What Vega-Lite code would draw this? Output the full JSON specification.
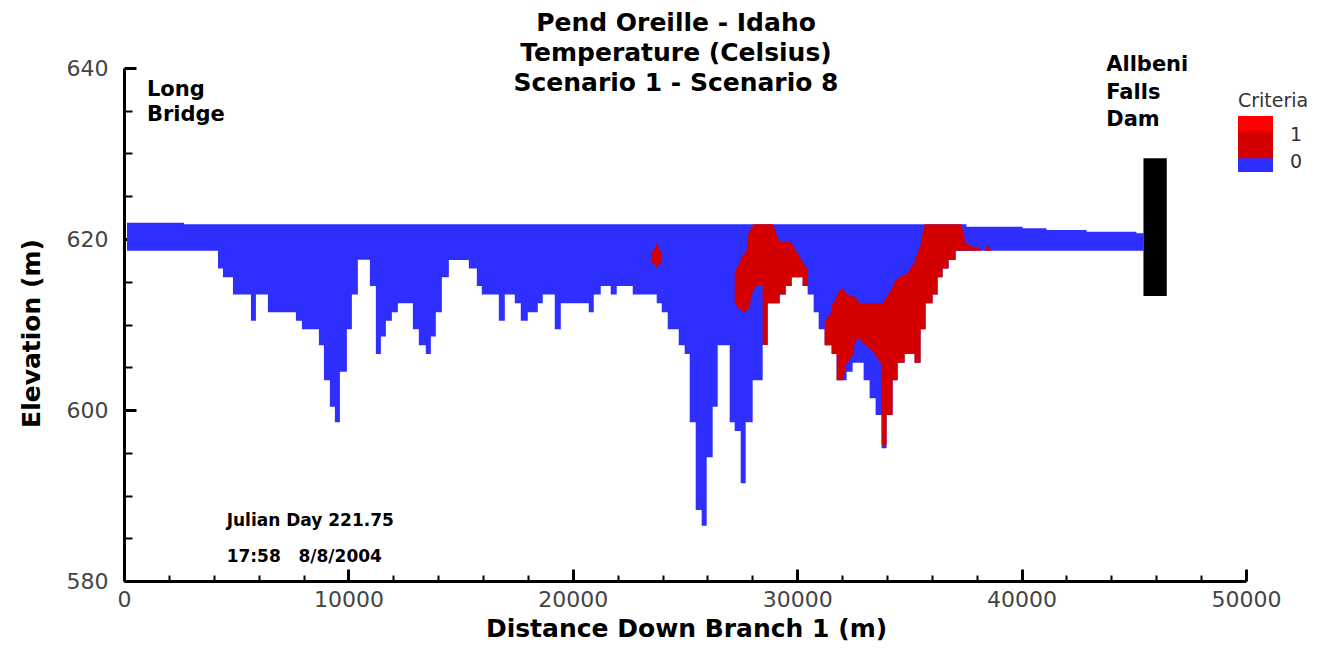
{
  "$schema": "https://vega.github.io/schema/vega-lite/v6.json",
  "width": 1122,
  "height": 513,
  "autosize": {"type": "none"},
  "padding": {"left": 124, "top": 68, "right": 82, "bottom": 67},
  "background": "white",
  "config": {"view": {"stroke": null}, "axis": {"grid": false}},
  "title": {
    "text": ["Pend Oreille - Idaho", "Temperature (Celsius)", "Scenario 1 - Scenario 8"],
    "font": "DejaVu Sans", "fontSize": 25, "fontWeight": "bold", "color": "black",
    "lineHeight": 30, "anchor": "middle", "frame": "group", "dx": -9, "offset": -42
  },
  "datasets": {
    "water": [
      {"x": 134, "top": 621.9, "bot": 618.63, "c": 0},
      {"x": 2672, "top": 621.72, "bot": 618.63, "c": 0},
      {"x": 4187, "top": 621.72, "bot": 616.55, "c": 0},
      {"x": 4409, "top": 621.72, "bot": 615.52, "c": 0},
      {"x": 4855, "top": 621.72, "bot": 613.51, "c": 0},
      {"x": 5657, "top": 621.72, "bot": 610.44, "c": 0},
      {"x": 5879, "top": 621.72, "bot": 613.51, "c": 0},
      {"x": 6414, "top": 621.72, "bot": 611.44, "c": 0},
      {"x": 7661, "top": 621.72, "bot": 610.44, "c": 0},
      {"x": 7928, "top": 621.72, "bot": 609.44, "c": 0},
      {"x": 8685, "top": 621.72, "bot": 607.57, "c": 0},
      {"x": 8908, "top": 621.72, "bot": 603.47, "c": 0},
      {"x": 9175, "top": 621.72, "bot": 600.39, "c": 0},
      {"x": 9398, "top": 621.72, "bot": 598.56, "c": 0},
      {"x": 9621, "top": 621.72, "bot": 604.48, "c": 0},
      {"x": 9932, "top": 621.72, "bot": 609.44, "c": 0},
      {"x": 10155, "top": 621.72, "bot": 613.51, "c": 0},
      {"x": 10422, "top": 621.72, "bot": 617.58, "c": 0},
      {"x": 10957, "top": 621.72, "bot": 614.5, "c": 0},
      {"x": 11224, "top": 621.72, "bot": 606.55, "c": 0},
      {"x": 11447, "top": 621.72, "bot": 608.6, "c": 0},
      {"x": 11669, "top": 621.72, "bot": 610.44, "c": 0},
      {"x": 11937, "top": 621.72, "bot": 611.44, "c": 0},
      {"x": 12204, "top": 621.72, "bot": 612.48, "c": 0},
      {"x": 12872, "top": 621.72, "bot": 609.44, "c": 0},
      {"x": 13139, "top": 621.72, "bot": 607.57, "c": 0},
      {"x": 13451, "top": 621.72, "bot": 606.55, "c": 0},
      {"x": 13674, "top": 621.72, "bot": 608.6, "c": 0},
      {"x": 13896, "top": 621.72, "bot": 611.44, "c": 0},
      {"x": 14164, "top": 621.72, "bot": 615.52, "c": 0},
      {"x": 14476, "top": 621.72, "bot": 617.54, "c": 0},
      {"x": 15366, "top": 621.72, "bot": 616.55, "c": 0},
      {"x": 15723, "top": 621.72, "bot": 614.5, "c": 0},
      {"x": 15945, "top": 621.72, "bot": 613.51, "c": 0},
      {"x": 16703, "top": 621.72, "bot": 610.44, "c": 0},
      {"x": 16970, "top": 621.72, "bot": 613.51, "c": 0},
      {"x": 17415, "top": 621.72, "bot": 612.48, "c": 0},
      {"x": 17682, "top": 621.72, "bot": 610.44, "c": 0},
      {"x": 17994, "top": 621.72, "bot": 611.44, "c": 0},
      {"x": 18440, "top": 621.72, "bot": 612.48, "c": 0},
      {"x": 18662, "top": 621.72, "bot": 613.51, "c": 0},
      {"x": 19197, "top": 621.72, "bot": 609.44, "c": 0},
      {"x": 19464, "top": 621.72, "bot": 612.48, "c": 0},
      {"x": 20711, "top": 621.72, "bot": 611.44, "c": 0},
      {"x": 20934, "top": 621.72, "bot": 613.51, "c": 0},
      {"x": 21246, "top": 621.72, "bot": 614.5, "c": 0},
      {"x": 21691, "top": 621.72, "bot": 613.51, "c": 0},
      {"x": 21958, "top": 621.72, "bot": 614.5, "c": 0},
      {"x": 22671, "top": 621.72, "bot": 613.51, "c": 0},
      {"x": 23740, "top": 621.72, "bot": 612.48, "c": 0},
      {"x": 23963, "top": 621.72, "bot": 611.44, "c": 0},
      {"x": 24230, "top": 621.72, "bot": 609.44, "c": 0},
      {"x": 24720, "top": 621.72, "bot": 607.57, "c": 0},
      {"x": 24987, "top": 621.72, "bot": 606.55, "c": 0},
      {"x": 25210, "top": 621.72, "bot": 598.56, "c": 0},
      {"x": 25477, "top": 621.72, "bot": 588.3, "c": 0},
      {"x": 25744, "top": 621.72, "bot": 586.47, "c": 0},
      {"x": 25967, "top": 621.72, "bot": 594.47, "c": 0},
      {"x": 26234, "top": 621.72, "bot": 600.39, "c": 0},
      {"x": 26457, "top": 621.72, "bot": 607.57, "c": 0},
      {"x": 26991, "top": 621.72, "bot": 598.56, "c": 0},
      {"x": 27214, "top": 621.72, "bot": 597.55, "c": 0},
      {"x": 27482, "top": 621.72, "bot": 591.43, "c": 0},
      {"x": 27704, "top": 621.72, "bot": 598.56, "c": 0},
      {"x": 28016, "top": 621.72, "bot": 603.47, "c": 0},
      {"x": 28462, "top": 621.72, "bot": 607.6, "c": 0},
      {"x": 28684, "top": 621.72, "bot": 612.48, "c": 0},
      {"x": 29219, "top": 621.72, "bot": 613.51, "c": 0},
      {"x": 29486, "top": 621.72, "bot": 614.5, "c": 0},
      {"x": 29753, "top": 621.72, "bot": 615.52, "c": 0},
      {"x": 30243, "top": 621.72, "bot": 614.5, "c": 0},
      {"x": 30466, "top": 621.72, "bot": 613.51, "c": 0},
      {"x": 30733, "top": 621.72, "bot": 611.44, "c": 0},
      {"x": 30956, "top": 621.72, "bot": 609.44, "c": 0},
      {"x": 31223, "top": 621.72, "bot": 607.57, "c": 0},
      {"x": 31535, "top": 621.72, "bot": 606.55, "c": 0},
      {"x": 31758, "top": 621.72, "bot": 603.47, "c": 0},
      {"x": 32203, "top": 621.72, "bot": 604.48, "c": 0},
      {"x": 32470, "top": 621.72, "bot": 605.53, "c": 0},
      {"x": 32960, "top": 621.72, "bot": 603.47, "c": 0},
      {"x": 33227, "top": 621.72, "bot": 601.37, "c": 0},
      {"x": 33494, "top": 621.72, "bot": 599.42, "c": 0},
      {"x": 33761, "top": 621.72, "bot": 595.52, "c": 0},
      {"x": 33984, "top": 621.72, "bot": 599.42, "c": 0},
      {"x": 34251, "top": 621.72, "bot": 603.47, "c": 0},
      {"x": 34474, "top": 621.72, "bot": 605.53, "c": 0},
      {"x": 34786, "top": 621.72, "bot": 606.55, "c": 0},
      {"x": 35231, "top": 621.72, "bot": 605.53, "c": 0},
      {"x": 35498, "top": 621.72, "bot": 609.44, "c": 0},
      {"x": 35721, "top": 621.72, "bot": 612.48, "c": 0},
      {"x": 36033, "top": 621.72, "bot": 613.51, "c": 0},
      {"x": 36256, "top": 621.72, "bot": 615.52, "c": 0},
      {"x": 36478, "top": 621.72, "bot": 616.55, "c": 0},
      {"x": 36746, "top": 621.72, "bot": 617.54, "c": 0},
      {"x": 37058, "top": 621.72, "bot": 618.63, "c": 0},
      {"x": 37547, "top": 621.44, "bot": 618.63, "c": 0},
      {"x": 40041, "top": 621.25, "bot": 618.63, "c": 0},
      {"x": 41110, "top": 621.05, "bot": 618.63, "c": 0},
      {"x": 42892, "top": 620.85, "bot": 618.63, "c": 0},
      {"x": 45119, "top": 620.67, "bot": 618.63, "c": 0},
      {"x": 45431, "top": 620.67, "bot": 618.63, "c": 0}
    ],
    "red": [
      {"r": "A", "x": 23504, "top": 618.33, "bot": 617.35, "c": 1},
      {"r": "A", "x": 23651, "top": 618.91, "bot": 616.96, "c": 1},
      {"r": "A", "x": 23727, "top": 619.5, "bot": 616.57, "c": 1},
      {"r": "A", "x": 23798, "top": 619.1, "bot": 616.96, "c": 1},
      {"r": "A", "x": 23976, "top": 618.33, "bot": 617.35, "c": 1},
      {"r": "B", "x": 27214, "top": 615.99, "bot": 612.48, "c": 1},
      {"r": "B", "x": 27290, "top": 616.57, "bot": 612.28, "c": 1},
      {"r": "B", "x": 27361, "top": 616.9, "bot": 611.89, "c": 1},
      {"r": "B", "x": 27437, "top": 617.16, "bot": 611.75, "c": 1},
      {"r": "B", "x": 27512, "top": 617.93, "bot": 611.64, "c": 1},
      {"r": "B", "x": 27584, "top": 618.13, "bot": 611.5, "c": 1},
      {"r": "B", "x": 27735, "top": 618.51, "bot": 611.58, "c": 1},
      {"r": "B", "x": 27806, "top": 620.47, "bot": 611.75, "c": 1},
      {"r": "B", "x": 27882, "top": 620.94, "bot": 612.08, "c": 1},
      {"r": "B", "x": 27958, "top": 621.29, "bot": 613.45, "c": 1},
      {"r": "B", "x": 28029, "top": 621.72, "bot": 613.8, "c": 1},
      {"r": "B", "x": 28105, "top": 621.72, "bot": 614.23, "c": 1},
      {"r": "B", "x": 28252, "top": 621.72, "bot": 614.62, "c": 1},
      {"r": "B", "x": 28461, "top": 621.72, "bot": 614.54, "c": 1},
      {"r": "B", "x": 28462, "top": 621.72, "bot": 607.6, "c": 1},
      {"r": "B", "x": 28683, "top": 621.72, "bot": 607.6, "c": 1},
      {"r": "B", "x": 28684, "top": 621.72, "bot": 612.48, "c": 1},
      {"r": "B", "x": 28920, "top": 621.72, "bot": 612.48, "c": 1},
      {"r": "B", "x": 29071, "top": 620.67, "bot": 612.48, "c": 1},
      {"r": "B", "x": 29218, "top": 619.68, "bot": 612.48, "c": 1},
      {"r": "B", "x": 29219, "top": 619.68, "bot": 613.51, "c": 1},
      {"r": "B", "x": 29485, "top": 619.68, "bot": 613.51, "c": 1},
      {"r": "B", "x": 29486, "top": 619.68, "bot": 614.5, "c": 1},
      {"r": "B", "x": 29664, "top": 619.68, "bot": 614.5, "c": 1},
      {"r": "B", "x": 29752, "top": 619.5, "bot": 614.5, "c": 1},
      {"r": "B", "x": 29753, "top": 619.5, "bot": 615.52, "c": 1},
      {"r": "B", "x": 29887, "top": 618.91, "bot": 615.52, "c": 1},
      {"r": "B", "x": 30109, "top": 617.93, "bot": 615.52, "c": 1},
      {"r": "B", "x": 30242, "top": 617.31, "bot": 615.52, "c": 1},
      {"r": "B", "x": 30243, "top": 617.31, "bot": 614.5, "c": 1},
      {"r": "B", "x": 30332, "top": 616.96, "bot": 614.5, "c": 1},
      {"r": "B", "x": 30466, "top": 616.57, "bot": 614.5, "c": 1},
      {"r": "C", "x": 31223, "top": 610.45, "bot": 607.57, "c": 1},
      {"r": "C", "x": 31298, "top": 610.64, "bot": 607.57, "c": 1},
      {"r": "C", "x": 31445, "top": 611.11, "bot": 607.57, "c": 1},
      {"r": "C", "x": 31521, "top": 611.5, "bot": 607.57, "c": 1},
      {"r": "C", "x": 31534, "top": 611.7, "bot": 607.57, "c": 1},
      {"r": "C", "x": 31535, "top": 611.7, "bot": 606.55, "c": 1},
      {"r": "C", "x": 31548, "top": 612.28, "bot": 606.55, "c": 1},
      {"r": "C", "x": 31668, "top": 612.67, "bot": 606.55, "c": 1},
      {"r": "C", "x": 31744, "top": 613.22, "bot": 606.55, "c": 1},
      {"r": "C", "x": 31757, "top": 613.3, "bot": 606.55, "c": 1},
      {"r": "C", "x": 31758, "top": 613.3, "bot": 603.47, "c": 1},
      {"r": "C", "x": 31788, "top": 613.45, "bot": 603.47, "c": 1},
      {"r": "C", "x": 31891, "top": 614.04, "bot": 603.47, "c": 1},
      {"r": "C", "x": 32038, "top": 614.23, "bot": 603.47, "c": 1},
      {"r": "C", "x": 32082, "top": 614.04, "bot": 603.9, "c": 1},
      {"r": "C", "x": 32189, "top": 613.65, "bot": 605.46, "c": 1},
      {"r": "C", "x": 32260, "top": 613.45, "bot": 605.67, "c": 1},
      {"r": "C", "x": 32336, "top": 613.39, "bot": 605.85, "c": 1},
      {"r": "C", "x": 32483, "top": 613.31, "bot": 606.43, "c": 1},
      {"r": "C", "x": 32559, "top": 613.25, "bot": 607.8, "c": 1},
      {"r": "C", "x": 32679, "top": 612.87, "bot": 608.39, "c": 1},
      {"r": "C", "x": 32781, "top": 612.48, "bot": 608.3, "c": 1},
      {"r": "C", "x": 32928, "top": 612.48, "bot": 607.8, "c": 1},
      {"r": "C", "x": 33080, "top": 612.48, "bot": 607.52, "c": 1},
      {"r": "C", "x": 33227, "top": 612.48, "bot": 607.22, "c": 1},
      {"r": "C", "x": 33374, "top": 612.48, "bot": 606.82, "c": 1},
      {"r": "C", "x": 33525, "top": 612.48, "bot": 606.23, "c": 1},
      {"r": "C", "x": 33672, "top": 612.48, "bot": 605.65, "c": 1},
      {"r": "C", "x": 33760, "top": 612.48, "bot": 605.46, "c": 1},
      {"r": "C", "x": 33761, "top": 612.48, "bot": 595.91, "c": 1},
      {"r": "C", "x": 33819, "top": 612.48, "bot": 595.91, "c": 1},
      {"r": "C", "x": 33983, "top": 613.25, "bot": 595.91, "c": 1},
      {"r": "C", "x": 33984, "top": 613.25, "bot": 599.42, "c": 1},
      {"r": "C", "x": 34118, "top": 613.84, "bot": 599.42, "c": 1},
      {"r": "C", "x": 34250, "top": 614.3, "bot": 599.42, "c": 1},
      {"r": "C", "x": 34251, "top": 614.3, "bot": 603.47, "c": 1},
      {"r": "C", "x": 34341, "top": 615.01, "bot": 603.47, "c": 1},
      {"r": "C", "x": 34473, "top": 615.4, "bot": 603.47, "c": 1},
      {"r": "C", "x": 34474, "top": 615.4, "bot": 605.53, "c": 1},
      {"r": "C", "x": 34564, "top": 615.59, "bot": 605.53, "c": 1},
      {"r": "C", "x": 34785, "top": 615.8, "bot": 605.53, "c": 1},
      {"r": "C", "x": 34786, "top": 615.8, "bot": 606.55, "c": 1},
      {"r": "C", "x": 35008, "top": 616.37, "bot": 606.55, "c": 1},
      {"r": "C", "x": 35230, "top": 617.31, "bot": 606.55, "c": 1},
      {"r": "C", "x": 35231, "top": 617.31, "bot": 605.53, "c": 1},
      {"r": "C", "x": 35378, "top": 618.48, "bot": 605.53, "c": 1},
      {"r": "C", "x": 35497, "top": 619.35, "bot": 605.53, "c": 1},
      {"r": "C", "x": 35498, "top": 619.35, "bot": 609.44, "c": 1},
      {"r": "C", "x": 35601, "top": 620.82, "bot": 609.44, "c": 1},
      {"r": "C", "x": 35677, "top": 621.72, "bot": 609.44, "c": 1},
      {"r": "C", "x": 35720, "top": 621.72, "bot": 609.44, "c": 1},
      {"r": "C", "x": 35721, "top": 621.72, "bot": 612.48, "c": 1},
      {"r": "C", "x": 36032, "top": 621.72, "bot": 612.48, "c": 1},
      {"r": "C", "x": 36033, "top": 621.72, "bot": 613.51, "c": 1},
      {"r": "C", "x": 36255, "top": 621.72, "bot": 613.51, "c": 1},
      {"r": "C", "x": 36256, "top": 621.72, "bot": 615.52, "c": 1},
      {"r": "C", "x": 36477, "top": 621.72, "bot": 615.52, "c": 1},
      {"r": "C", "x": 36478, "top": 621.72, "bot": 616.55, "c": 1},
      {"r": "C", "x": 36745, "top": 621.72, "bot": 616.55, "c": 1},
      {"r": "C", "x": 36746, "top": 621.72, "bot": 617.54, "c": 1},
      {"r": "C", "x": 37057, "top": 621.72, "bot": 617.54, "c": 1},
      {"r": "C", "x": 37058, "top": 621.72, "bot": 618.63, "c": 1},
      {"r": "C", "x": 37311, "top": 621.72, "bot": 618.63, "c": 1},
      {"r": "C", "x": 37384, "top": 621.05, "bot": 618.63, "c": 1},
      {"r": "C", "x": 37458, "top": 620.08, "bot": 618.63, "c": 1},
      {"r": "C", "x": 37534, "top": 619.5, "bot": 618.63, "c": 1},
      {"r": "C", "x": 37828, "top": 619.1, "bot": 618.63, "c": 1},
      {"r": "C", "x": 38051, "top": 619.1, "bot": 618.63, "c": 1},
      {"r": "C", "x": 38202, "top": 618.63, "bot": 618.63, "c": 1},
      {"r": "D", "x": 38349, "top": 618.63, "bot": 618.63, "c": 1},
      {"r": "D", "x": 38483, "top": 619.38, "bot": 618.63, "c": 1},
      {"r": "D", "x": 38647, "top": 618.63, "bot": 618.63, "c": 1}
    ],
    "dam": [{"x": 45431, "x2": 46469, "top": 629.44, "bot": 613.33}],
    "places": [
      {"t": "Long", "x": 1024, "y": 637.4},
      {"t": "Bridge", "x": 1024, "y": 634.5},
      {"t": "Allbeni", "x": 43770, "y": 640.35},
      {"t": "Falls", "x": 43770, "y": 637.04},
      {"t": "Dam", "x": 43770, "y": 633.92}
    ],
    "stamp": [
      {"t": "Julian Day 221.75", "x": 4574, "y": 587.0},
      {"t": "17:58\u00a0\u00a0\u00a08/8/2004", "x": 4574, "y": 582.84}
    ]
  },
  "resolve": {"axis": {"x": "independent", "y": "independent"}},
  "layer": [
    {
      "data": {"name": "water"},
      "mark": {"type": "area", "interpolate": "step-after"},
      "encoding": {
        "x": {"field": "x", "type": "quantitative",
          "scale": {"domain": [0, 50000], "nice": false, "zero": false},
          "axis": {"orient": "bottom", "values": [0, 10000, 20000, 30000, 40000, 50000], "format": "d",
            "labelFont": "DejaVu Sans", "labelFontSize": 22, "labelColor": "#444", "labelPadding": 20,
            "labelFlush": false, "labelOverlap": false, "labelBaseline": "top",
            "tickSize": -12, "tickWidth": 3, "tickColor": "black",
            "domainColor": "black", "domainWidth": 3,
            "title": "Distance Down Branch 1 (m)", "titleFont": "DejaVu Sans", "titleFontSize": 25,
            "titleFontWeight": "bold", "titleColor": "black", "titleX": 562, "titleY": 47,
            "titleBaseline": "middle", "titleAlign": "center"}},
        "y": {"field": "top", "type": "quantitative",
          "scale": {"domain": [580, 640], "nice": false, "zero": false},
          "axis": {"orient": "left", "values": [580, 600, 620, 640],
            "labelFont": "DejaVu Sans", "labelFontSize": 22, "labelColor": "#444", "labelPadding": 28,
            "labelFlush": false, "labelOverlap": false,
            "tickSize": -12, "tickWidth": 3, "tickColor": "black",
            "domainColor": "black", "domainWidth": 3,
            "title": "Elevation (m)", "titleFont": "DejaVu Sans", "titleFontSize": 25,
            "titleFontWeight": "bold", "titleColor": "black", "titleX": -93, "titleY": 265,
            "titleBaseline": "middle", "titleAlign": "center", "titleAngle": -90}},
        "y2": {"field": "bot"},
        "color": {"field": "c", "type": "quantitative",
          "scale": {"domain": [-0.376, 0.1, 0.2, 1.1, 1.2, 1.712],
            "range": ["#2e2eff", "#2e2eff", "#d40000", "#d40000", "#ff0000", "#ff0000"],
            "nice": false, "zero": false},
          "legend": {"orient": "none", "legendX": 1114, "legendY": 24, "direction": "vertical",
            "title": "Criteria", "values": [0, 1], "gradientLength": 56, "gradientThickness": 35,
            "gradientStrokeWidth": 0, "padding": 0,
            "labelFont": "DejaVu Sans", "labelFontSize": 19, "labelColor": "#333", "labelOffset": 17,
            "titleFont": "DejaVu Sans", "titleFontSize": 19, "titleFontWeight": "normal",
            "titleColor": "#333", "titlePadding": 5}}
      }
    },
    {
      "data": {"name": "red"},
      "mark": {"type": "area", "interpolate": "linear"},
      "encoding": {
        "x": {"field": "x", "type": "quantitative", "scale": {"domain": [0, 50000], "nice": false, "zero": false}, "axis": null},
        "y": {"field": "top", "type": "quantitative", "scale": {"domain": [580, 640], "nice": false, "zero": false}, "axis": null},
        "y2": {"field": "bot"},
        "detail": {"field": "r"},
        "color": {"field": "c", "type": "quantitative",
          "scale": {"domain": [-0.376, 0.1, 0.2, 1.1, 1.2, 1.712],
            "range": ["#2e2eff", "#2e2eff", "#d40000", "#d40000", "#ff0000", "#ff0000"],
            "nice": false, "zero": false}}
      }
    },
    {
      "data": {"name": "dam"},
      "mark": {"type": "rect", "color": "black"},
      "encoding": {
        "x": {"field": "x", "type": "quantitative", "scale": {"domain": [0, 50000], "nice": false, "zero": false},
          "axis": {"orient": "bottom", "values": [2000, 4000, 6000, 8000, 12000, 14000, 16000, 18000, 22000, 24000, 26000, 28000, 32000, 34000, 36000, 38000, 42000, 44000, 46000, 48000],
            "labels": false, "domain": false, "tickSize": -6, "tickWidth": 2, "tickColor": "black", "title": null}},
        "x2": {"field": "x2"},
        "y": {"field": "top", "type": "quantitative", "scale": {"domain": [580, 640], "nice": false, "zero": false},
          "axis": {"orient": "left", "values": [585, 590, 595, 605, 610, 615, 625, 630, 635],
            "labels": false, "domain": false, "tickSize": -8, "tickWidth": 2, "tickColor": "black", "title": null}},
        "y2": {"field": "bot"}
      }
    },
    {
      "data": {"name": "places"},
      "mark": {"type": "text", "align": "left", "baseline": "middle", "font": "DejaVu Sans", "fontWeight": "bold", "fontSize": 21, "color": "black"},
      "encoding": {
        "x": {"field": "x", "type": "quantitative", "scale": {"domain": [0, 50000], "nice": false, "zero": false}, "axis": null},
        "y": {"field": "y", "type": "quantitative", "scale": {"domain": [580, 640], "nice": false, "zero": false}, "axis": null},
        "text": {"field": "t"}
      }
    },
    {
      "data": {"name": "stamp"},
      "mark": {"type": "text", "align": "left", "baseline": "middle", "font": "DejaVu Sans", "fontWeight": "bold", "fontSize": 17, "color": "black"},
      "encoding": {
        "x": {"field": "x", "type": "quantitative", "scale": {"domain": [0, 50000], "nice": false, "zero": false}, "axis": null},
        "y": {"field": "y", "type": "quantitative", "scale": {"domain": [580, 640], "nice": false, "zero": false}, "axis": null},
        "text": {"field": "t"}
      }
    }
  ]
}
